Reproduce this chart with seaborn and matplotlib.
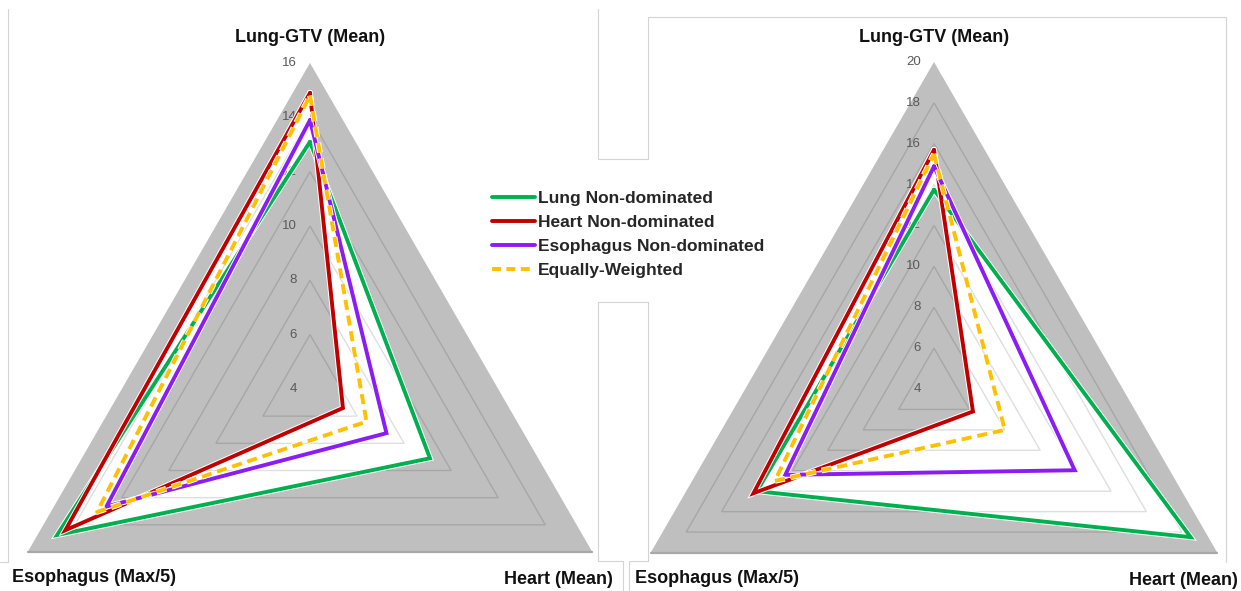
import numpy as np
import matplotlib
matplotlib.use("Agg")
import matplotlib.pyplot as plt
import matplotlib.patheffects as pe
from matplotlib.lines import Line2D
import pandas as pd
import seaborn as sns

# ---- data -------------------------------------------------------------
axis_names = ["Lung-GTV (Mean)", "Heart (Mean)", "Esophagus (Max/5)"]
axis_angles = [90.0, -30.0, 210.0]          # degrees, one per axis

series_names = ["Lung Non-dominated", "Heart Non-dominated",
                "Esophagus Non-dominated", "Equally-Weighted"]
series_colors = ["#00b050", "#c00000", "#8b1cf5", "#ffc000"]

# left panel: one value per series for each axis
left_lung = [13.1, 14.9, 13.9, 14.8]
left_heart = [9.1, 5.4, 7.25, 6.4]
left_esoph = [14.75, 14.4, 12.65, 13.05]
left_ticks = [4, 6, 8, 10, 12, 14, 16]

# right panel
right_lung = [13.75, 15.7, 14.9, 15.5]
right_heart = [18.5, 6.2, 11.95, 8.0]
right_esoph = [14.0, 14.2, 12.4, 13.0]
right_ticks = [4, 6, 8, 10, 12, 14, 16, 18, 20]

# ---- style ------------------------------------------------------------
sns.set_theme(style="white")
plt.rcParams["font.family"] = ["Liberation Sans", "DejaVu Sans"]

W, H = 1241, 591
fig = plt.figure(figsize=(W / 100, H / 100), dpi=100)
fig.patch.set_facecolor("white")

GREY = "#bfbfbf"
LW = 2.8
DASH = (0, (2.6, 1.5))


def to_xy(values, rmin):
    ang = np.deg2rad(axis_angles)
    r = np.asarray(values, dtype=float) - rmin
    return r * np.cos(ang), r * np.sin(ang)


def clip_convex(subject, clip):
    """Sutherland-Hodgman clip of polygon `subject` by CCW convex `clip`."""
    out = list(subject)
    n = len(clip)
    for i in range(n):
        a, b = np.array(clip[i]), np.array(clip[(i + 1) % n])
        inp, out = out, []
        if not inp:
            break

        def inside(p):
            return (b[0] - a[0]) * (p[1] - a[1]) - (b[1] - a[1]) * (p[0] - a[0]) >= 0

        def cross_pt(p, q):
            p, q = np.array(p), np.array(q)
            d1, d2 = q - p, b - a
            den = d1[0] * d2[1] - d1[1] * d2[0]
            t = ((a[0] - p[0]) * d2[1] - (a[1] - p[1]) * d2[0]) / den
            return tuple(p + t * d1)

        prev = inp[-1]
        for cur in inp:
            if inside(cur):
                if not inside(prev):
                    out.append(cross_pt(prev, cur))
                out.append(cur)
            elif inside(prev):
                out.append(cross_pt(prev, cur))
            prev = cur
    return out


def ccw(poly):
    xs, ys = zip(*poly)
    area = 0.5 * sum(xs[i] * ys[(i + 1) % 3] - xs[(i + 1) % 3] * ys[i] for i in range(3))
    return poly if area > 0 else poly[::-1]


def radar(x0, x1, cx, cy, scale, lung, heart, esoph, ticks):
    ax = fig.add_axes([x0 / W, 0, (x1 - x0) / W, 1])
    ax.set_xlim((x0 - cx) / scale, (x1 - cx) / scale)
    ax.set_ylim((cy - H) / scale, cy / scale)
    ax.axis("off")
    rmin, rmax = ticks[0], ticks[-1]

    # background triangle
    ox, oy = to_xy([rmax] * 3, rmin)
    ax.fill(ox, oy, color=GREY, lw=0, zorder=1)

    polys = []
    for i in range(len(series_names)):
        px, py = to_xy([lung[i], heart[i], esoph[i]], rmin)
        polys.append(ccw(list(zip(px, py))))
        ax.fill(px, py, color="white", lw=0, zorder=2)

    # area shared by every series stays grey
    inter = polys[0]
    for p in polys[1:]:
        inter = clip_convex(inter, p)
    if inter:
        ix, iy = zip(*inter)
        ax.fill(ix, iy, color=GREY, lw=0, zorder=3)

    # triangular grid rings
    for t in ticks[1:-1]:
        gx, gy = to_xy([t] * 3, rmin)
        ax.fill(gx, gy, facecolor="none", edgecolor=(0, 0, 0, 0.13),
                lw=1.0, zorder=4)
    ax.plot([ox[1], ox[2]], [oy[1], oy[2]], color="#a8a8a8", lw=1.6, zorder=4)

    for t in ticks:
        ax.annotate(str(t), xy=(0, t - rmin), xytext=(-13, 0),
                    textcoords="offset pixels", ha="right", va="center",
                    fontsize=9.5, color="#595959", zorder=4.5)

    # series outlines
    for i, name in enumerate(series_names):
        px, py = to_xy([lung[i], heart[i], esoph[i]], rmin)
        df = pd.DataFrame({"x": np.append(px, px[0]), "y": np.append(py, py[0])})
        kw = dict(linestyle=DASH) if i == 3 else {}
        sns.lineplot(data=df, x="x", y="y", sort=False, estimator=None,
                     color=series_colors[i], lw=LW, ax=ax, legend=False,
                     zorder=5 + i, solid_joinstyle="miter",
                     path_effects=[pe.Stroke(linewidth=LW + 1.4, foreground="white"),
                                   pe.Normal()], **kw)
    ax.set_xlabel("")
    ax.set_ylabel("")

    # axis names
    R = rmax - rmin
    lab = dict(fontsize=13, fontweight="bold", color="#111111",
               textcoords="offset pixels", annotation_clip=False)
    ax.annotate(axis_names[0], xy=(0, R), xytext=(0, 25), ha="center",
                va="center", **lab)
    ax.annotate(axis_names[1], xy=(ox[1], oy[1]), xytext=(21, -28),
                ha="right", va="center", **lab)
    ax.annotate(axis_names[2], xy=(ox[2], oy[2]), xytext=(-16, -26),
                ha="left", va="center", **lab)
    return ax


radar(0, 620, 310, 389, 326 / 12, left_lung, left_heart, left_esoph, left_ticks)
radar(620, 1241, 934, 389, 327 / 16, right_lung, right_heart, right_esoph, right_ticks)

# panel borders
frame_segments = [
    [(0, 562), (8, 562), (8, 9)],
    [(598, 9), (598, 159), (648, 159), (648, 17), (1226, 17), (1226, 562)],
    [(623, 591), (623, 561), (598, 561), (598, 302), (648, 302),
     (648, 561), (629, 561), (629, 591)],
]
for seg in frame_segments:
    xs, ys = zip(*seg)
    fig.add_artist(Line2D(np.array(xs) / W, 1 - np.array(ys) / H,
                          transform=fig.transFigure, color="#d4d4d4", lw=0.8))

# legend
handles = []
for i, c in enumerate(series_colors):
    ls = (0, (2.3, 1.4)) if i == 3 else "-"
    handles.append(Line2D([], [], color=c, lw=LW, linestyle=ls))
fig.legend(handles, series_names, loc="upper left",
           bbox_to_anchor=(492 / W, 1 - 191 / H), frameon=False,
           borderpad=0, borderaxespad=0, handlelength=2.45,
           handletextpad=0.2, labelspacing=0.5,
           prop={"size": 12.5, "weight": "bold"})

fig.savefig("out.png", dpi=100)
